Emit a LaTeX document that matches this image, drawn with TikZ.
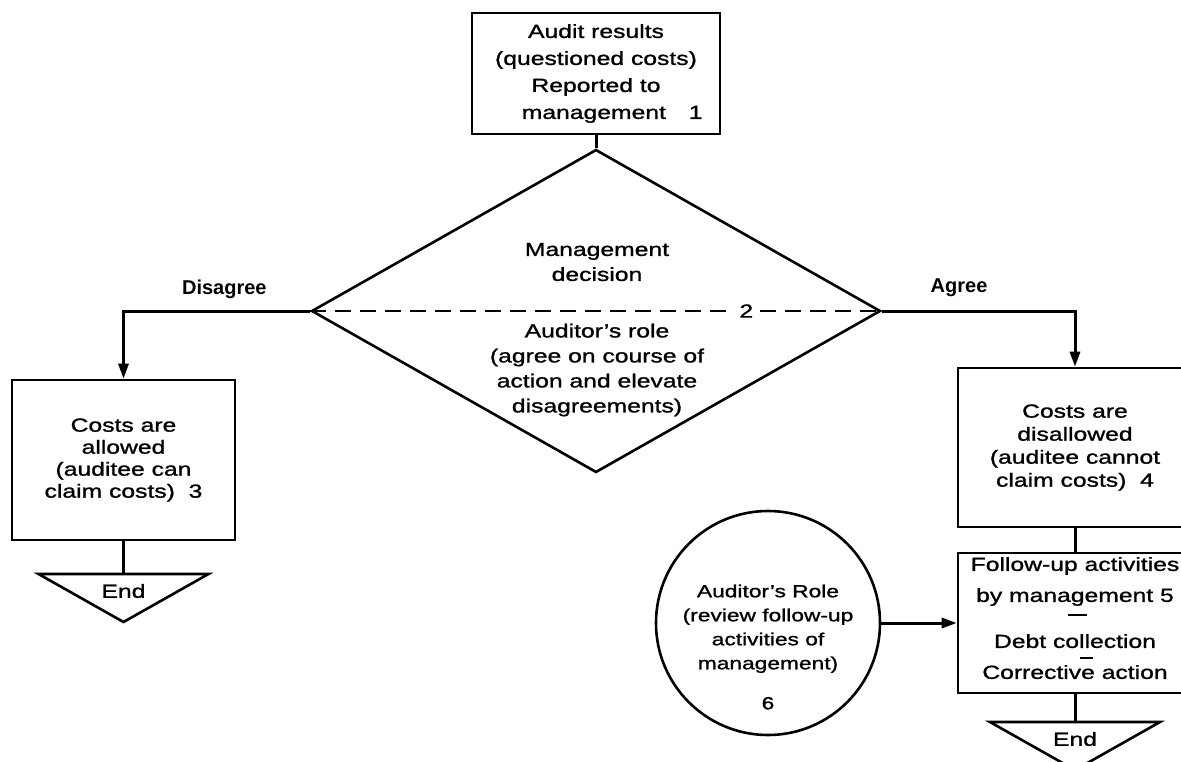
\documentclass[tikz,border=0pt]{standalone}
\usepackage{fontspec}
\setmainfont[FakeStretch=1.3, FakeBold=1.2]{Liberation Sans}
\newfontfamily\lblfont{Liberation Sans}
\usetikzlibrary{shapes.geometric,arrows.meta}
\tikzset{
  box/.style={draw, line width=2.6pt, align=center, inner sep=0pt},
  decide/.style={draw, diamond, line width=2.6pt, inner sep=0pt},
  txt/.style={align=center, font=\fontsize{19}{25}\selectfont},
  lbl/.style={font=\lblfont\bfseries\fontsize{20}{24}\selectfont},
  flow/.style={line width=3pt},
  flowarrow/.style={flow, -{Triangle[length=15pt,width=10pt]}},
}
\begin{document}
\begin{tikzpicture}[x=1pt, y=-1pt]
\useasboundingbox (0,0) rectangle (1181,762);
% audit box and decision
\node[box, txt, font=\fontsize{19}{27}\selectfont, minimum width=248, minimum height=121] (audit) at (596,73.5)
  {Audit results\\(questioned costs)\\Reported to\\\hspace*{1.7em}management\hspace{1.2em}1};
\node[decide, minimum width=569, minimum height=323] (decision) at (596,311) {};
\node[txt] (mgmt) at (597,262) {Management\\decision};
\node[txt] (role) at (597,370) {Auditor's role\\(agree on course of\\action and elevate\\disagreements)};
\draw[line width=2.2pt, dash pattern=on 16pt off 9pt] (decision.west) -- (decision.east)
  node[txt, pos=0.763, fill=white, inner sep=4pt] (two) {2};
% outcome boxes
\node[box, txt, font=\fontsize{19}{22}\selectfont, minimum width=223, minimum height=160] (allowed) at (123.5,460)
  {Costs are\\allowed\\(auditee can\\claim costs)~~3};
\node[box, txt, font=\fontsize{19}{23}\selectfont, minimum width=234, minimum height=159] (disallowed) at (1075,447.5)
  {Costs are\\disallowed\\(auditee cannot\\claim costs)~~4};
\node[box, txt, font=\fontsize{19}{31}\selectfont, text depth=10pt, minimum width=234, minimum height=140] (followup) at (1075,623)
  {Follow-up activities\\by management 5\\[15pt]Debt collection\\Corrective action};
\draw[line width=1.8pt] (1068,615) -- (1087,615);
\draw[line width=1.8pt] (1080,658) -- (1093,658);
% auditor review
\node[draw, circle, line width=2.6pt, minimum size=224, inner sep=0pt] (review) at (768,623) {};
\node[txt, font=\fontsize{17.5}{24}\selectfont] (reviewtext) at (768,647)
  {Auditor's Role\\(review follow-up\\activities of\\management)\\[16pt]6};
% end marks
\foreach \cx/\ty/\nm in {123.5/574/endL, 1075/722/endR}{
  \coordinate (\nm) at (\cx,\ty);
  \draw[line width=2.6pt] (\cx-85,\ty) -- (\cx+85,\ty) -- (\cx,\ty+48) -- cycle;
  \node[txt] (\nm-lbl) at (\cx,\ty+17) {End};
}
% connectors
\draw[flow] (audit) -- (decision);
\draw[flowarrow] (decision.west) -| (allowed.north)
  node[lbl, pos=0.23, above=7pt] (disagree) {Disagree};
\draw[flowarrow] (decision.east) -| (disallowed.north)
  node[lbl, pos=0.2, above=9pt] (agree) {Agree};
\draw[flow] (allowed) -- (endL);
\draw[flow] (disallowed) -- (followup);
\draw[flow] (followup) -- (endR);
\draw[flowarrow] (review) -- (followup);
\end{tikzpicture}
\end{document}
